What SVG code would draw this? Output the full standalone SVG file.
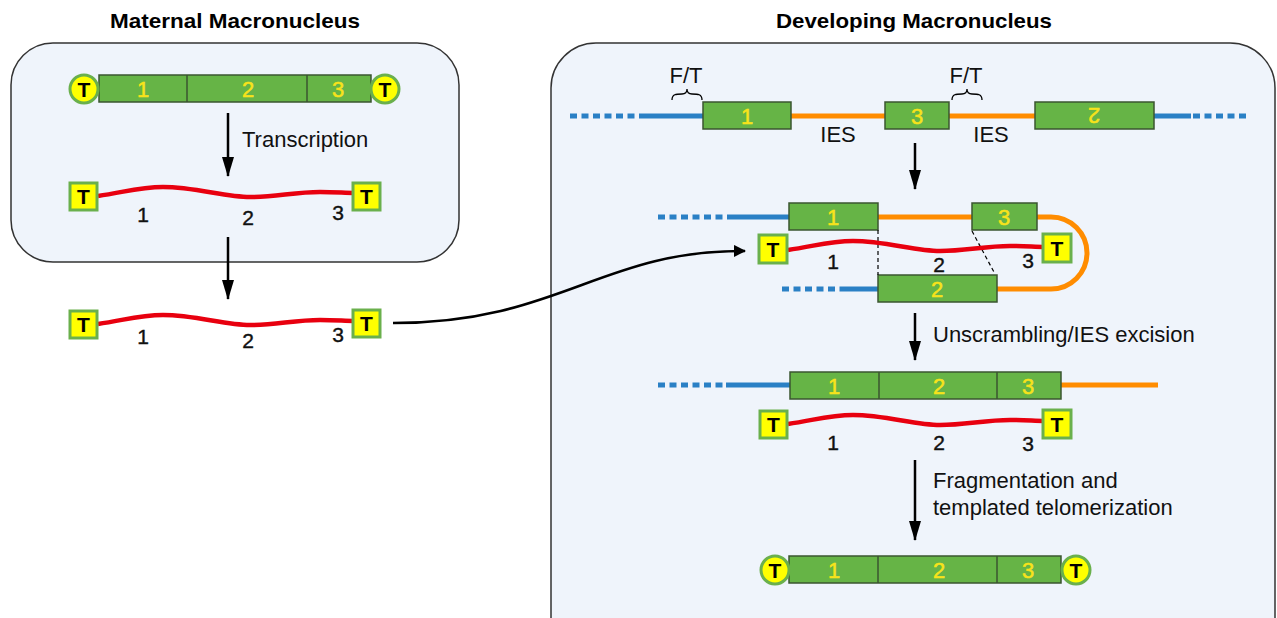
<svg xmlns="http://www.w3.org/2000/svg" width="1277" height="618" viewBox="0 0 1277 618">
<style>
.panel{fill:#eff4fb;stroke:#333;stroke-width:1.5}
.title{font-family:"Liberation Sans",Arial,sans-serif;font-weight:bold;font-size:21px;fill:#000;text-anchor:middle}
.lbl{font-family:"Liberation Sans",Arial,sans-serif;font-size:22px;fill:#111}
.gene{fill:#66b446;stroke:#3b5530;stroke-width:1.5}
.num{font-family:"Liberation Sans",Arial,sans-serif;font-size:22px;fill:#f7e31b;text-anchor:middle;stroke:#f7e31b;stroke-width:0.5}
.bn{font-family:"Liberation Sans",Arial,sans-serif;font-size:21px;fill:#111;text-anchor:middle;stroke:#111;stroke-width:0.4}
.tel{fill:#ffff00;stroke:#6ab04c;stroke-width:3}
.tt{font-family:"Liberation Sans",Arial,sans-serif;font-weight:bold;font-size:21px;fill:#000;text-anchor:middle}
.rna{fill:none;stroke:#e8000f;stroke-width:4.5}
.blue{fill:none;stroke:#2a80c5;stroke-width:5}
.bdot{fill:none;stroke:#2a80c5;stroke-width:5;stroke-dasharray:7 4.5}
.ora{fill:none;stroke:#ff8c00;stroke-width:5}
.arr{fill:none;stroke:#000;stroke-width:2.5}
.dash{fill:none;stroke:#000;stroke-width:1.2;stroke-dasharray:4 3}
</style>
<defs>
<marker id="ah" markerWidth="12" markerHeight="12" viewBox="0 0 12 12" refX="11" refY="6" orient="auto" markerUnits="userSpaceOnUse">
<path d="M0,0 L12,6 L0,12 z" fill="#000"/>
</marker>
<marker id="ahv" markerWidth="20" markerHeight="12" viewBox="0 0 20 12" refX="19" refY="6" orient="auto" markerUnits="userSpaceOnUse">
<path d="M0,0 L20,6 L0,12 z" fill="#000"/>
</marker>
<path id="wave" d="M98,196 C125,192 140,187 163,187 C195,187 225,197 250,197 C275,197 295,192 320,192 C335,192 345,193 353,193"/>
</defs>

<text class="title" x="235" y="28" textLength="250" lengthAdjust="spacingAndGlyphs">Maternal Macronucleus</text>
<text class="title" x="914" y="28" textLength="276" lengthAdjust="spacingAndGlyphs">Developing Macronucleus</text>

<g id="maternal-panel">
<rect class="panel" x="11" y="43" width="448" height="219" rx="42"/>
</g>
<g id="developing-panel">
<rect class="panel" x="551" y="43" width="724" height="620" rx="45"/>
</g>

<g id="maternal-chromosome">
<rect class="gene" x="99" y="75" width="272" height="27"/>
<line x1="187" y1="75" x2="187" y2="102" stroke="#3b5530" stroke-width="1.5"/>
<line x1="307" y1="75" x2="307" y2="102" stroke="#3b5530" stroke-width="1.5"/>
<text class="num" x="143" y="97">1</text>
<text class="num" x="248" y="97">2</text>
<text class="num" x="338" y="97">3</text>
<circle class="tel" cx="84" cy="89" r="14"/>
<text class="tt" x="84" y="96.5">T</text>
<circle class="tel" cx="385" cy="89" r="14"/>
<text class="tt" x="385" y="96.5">T</text>
</g>

<g id="maternal-rna">
<use href="#wave" class="rna"/>
<rect class="tel" x="70" y="183" width="27" height="27"/>
<text class="tt" x="83.5" y="204">T</text>
<rect class="tel" x="353" y="183" width="27" height="27"/>
<text class="tt" x="366.5" y="204">T</text>
<text class="bn" x="143" y="222">1</text>
<text class="bn" x="248" y="225">2</text>
<text class="bn" x="338" y="220">3</text>
</g>

<g id="exported-rna">
<use href="#wave" class="rna" transform="translate(0,128)"/>
<rect class="tel" x="70" y="311" width="27" height="27"/>
<text class="tt" x="83.5" y="332">T</text>
<rect class="tel" x="353" y="310" width="27" height="27"/>
<text class="tt" x="366.5" y="331">T</text>
<text class="bn" x="143" y="344">1</text>
<text class="bn" x="248" y="348">2</text>
<text class="bn" x="338" y="342">3</text>
</g>

<g id="scrambled-micronuclear">
<line class="bdot" x1="570" y1="116" x2="641" y2="116"/>
<line class="blue" x1="641" y1="116" x2="703" y2="116"/>
<line class="ora" x1="791" y1="116" x2="885" y2="116"/>
<line class="ora" x1="949" y1="116" x2="1035" y2="116"/>
<line class="blue" x1="1154" y1="116" x2="1191" y2="116"/>
<line class="bdot" x1="1193" y1="116" x2="1248" y2="116"/>
<rect class="gene" x="703" y="102" width="88" height="27"/>
<text class="num" x="747" y="124">1</text>
<rect class="gene" x="885" y="102" width="64" height="27"/>
<text class="num" x="917" y="124">3</text>
<rect class="gene" x="1035" y="102" width="119" height="27"/>
<text class="num" x="1094" y="124" transform="rotate(180 1094 116)">2</text>
<text class="lbl" x="686" y="83" text-anchor="middle" font-size="20">F/T</text>
<text class="lbl" x="966" y="83" text-anchor="middle" font-size="20">F/T</text>
<path d="M672,100 C672,94 676,94 682,94 C686,94 687,92 687,89 C687,92 688,94 692,94 C698,94 702,94 702,100" fill="none" stroke="#000" stroke-width="1.3"/>
<path d="M952,100 C952,94 956,94 962,94 C966,94 967,92 967,89 C967,92 968,94 972,94 C978,94 982,94 982,100" fill="none" stroke="#000" stroke-width="1.3"/>
<text class="lbl" x="838" y="142" text-anchor="middle" font-size="20">IES</text>
<text class="lbl" x="991" y="142" text-anchor="middle" font-size="20">IES</text>
</g>

<g id="template-pairing">
<line class="bdot" x1="658" y1="217" x2="727" y2="217"/>
<line class="blue" x1="727" y1="217" x2="789" y2="217"/>
<line class="ora" x1="878" y1="217" x2="972" y2="217"/>
<path class="ora" d="M1037,217 H1051 A36,36 0 0 1 1051,289 H997"/>
<line class="bdot" x1="782" y1="289" x2="842" y2="289"/>
<line class="blue" x1="842" y1="289" x2="878" y2="289"/>
<rect class="gene" x="789" y="203" width="89" height="27"/>
<text class="num" x="833" y="225">1</text>
<rect class="gene" x="972" y="203" width="65" height="27"/>
<text class="num" x="1004" y="225">3</text>
<rect class="gene" x="878" y="275" width="119" height="27"/>
<text class="num" x="937" y="297">2</text>
<line class="dash" x1="878" y1="230" x2="878" y2="275"/>
<line class="dash" x1="972" y1="231" x2="995" y2="274"/>
<use href="#wave" class="rna" transform="translate(690,54)"/>
<rect class="tel" x="759" y="235" width="28" height="28"/>
<text class="tt" x="773" y="256.5">T</text>
<rect class="tel" x="1043" y="234" width="28" height="28"/>
<text class="tt" x="1057" y="255.5">T</text>
<text class="bn" x="833" y="269">1</text>
<text class="bn" x="939" y="272">2</text>
<text class="bn" x="1028" y="268">3</text>
</g>

<g id="unscrambled">
<line class="bdot" x1="658" y1="385" x2="726" y2="385"/>
<line class="blue" x1="726" y1="385" x2="790" y2="385"/>
<line class="ora" x1="1061" y1="385" x2="1158" y2="385"/>
<rect class="gene" x="790" y="372" width="271" height="27"/>
<line x1="879" y1="372" x2="879" y2="399" stroke="#3b5530" stroke-width="1.5"/>
<line x1="997" y1="372" x2="997" y2="399" stroke="#3b5530" stroke-width="1.5"/>
<text class="num" x="834" y="394">1</text>
<text class="num" x="939" y="394">2</text>
<text class="num" x="1028" y="394">3</text>
<use href="#wave" class="rna" transform="translate(690,228)"/>
<rect class="tel" x="760" y="411" width="27" height="27"/>
<text class="tt" x="773.5" y="432">T</text>
<rect class="tel" x="1043" y="410" width="28" height="28"/>
<text class="tt" x="1057" y="431.5">T</text>
<text class="bn" x="833" y="450">1</text>
<text class="bn" x="939" y="450">2</text>
<text class="bn" x="1028" y="451">3</text>
</g>

<g id="final-chromosome">
<rect class="gene" x="789" y="556" width="272" height="27"/>
<line x1="878" y1="556" x2="878" y2="583" stroke="#3b5530" stroke-width="1.5"/>
<line x1="997" y1="556" x2="997" y2="583" stroke="#3b5530" stroke-width="1.5"/>
<text class="num" x="834" y="578">1</text>
<text class="num" x="939" y="578">2</text>
<text class="num" x="1028" y="578">3</text>
<circle class="tel" cx="775" cy="570" r="14"/>
<text class="tt" x="775" y="577.5">T</text>
<circle class="tel" cx="1076" cy="570" r="14"/>
<text class="tt" x="1076" y="577.5">T</text>
</g>

<g id="connectors">
<line class="arr" x1="228" y1="113" x2="228" y2="176" marker-end="url(#ahv)"/>
<line class="arr" x1="228" y1="237" x2="228" y2="299" marker-end="url(#ahv)"/>
<path class="arr" d="M393,323 C560,323 600,250 745,251" marker-end="url(#ah)"/>
<line class="arr" x1="915" y1="143" x2="915" y2="189" marker-end="url(#ahv)"/>
<line class="arr" x1="915" y1="313" x2="915" y2="360" marker-end="url(#ahv)"/>
<line class="arr" x1="915" y1="460" x2="915" y2="540" marker-end="url(#ahv)"/>
</g>

<g id="step-labels">
<text class="lbl" x="242" y="147">Transcription</text>
<text class="lbl" x="933" y="342">Unscrambling/IES excision</text>
<text class="lbl" x="933" y="488">Fragmentation and</text>
<text class="lbl" x="933" y="515">templated telomerization</text>
</g>
</svg>
